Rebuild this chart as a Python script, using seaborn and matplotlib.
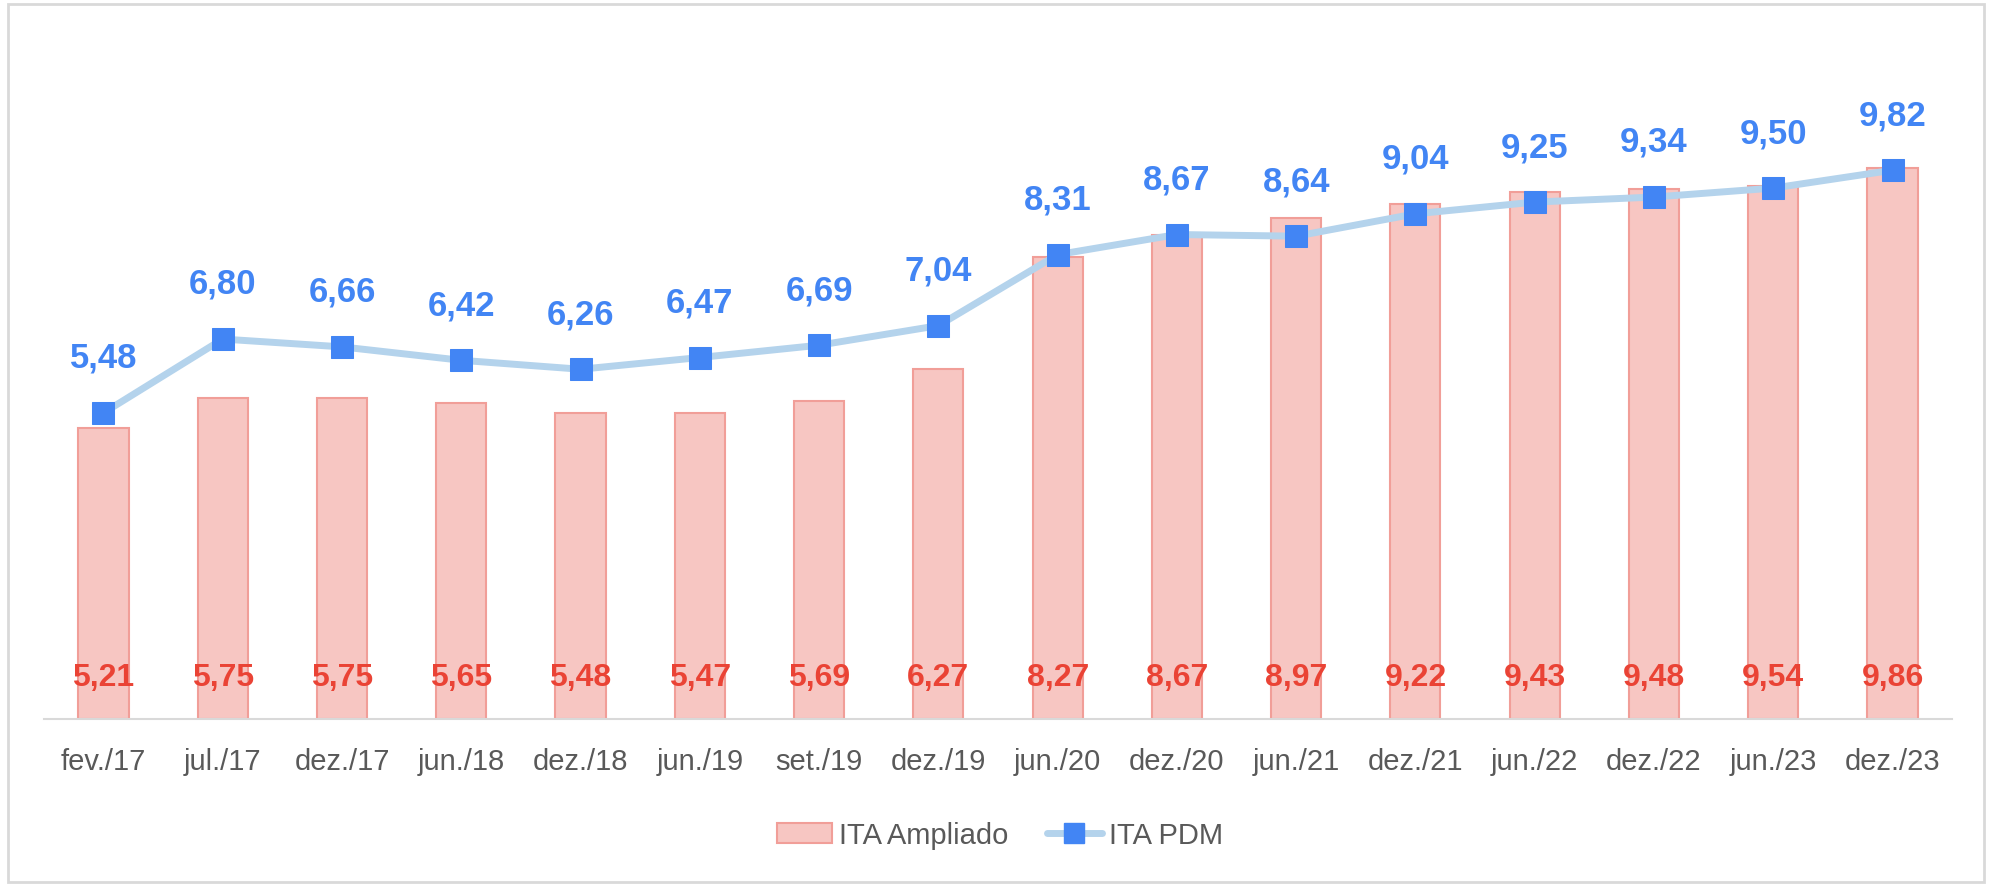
import matplotlib
matplotlib.use("Agg")
import matplotlib.pyplot as plt
import seaborn as sns
import numpy as np
from matplotlib import font_manager
from matplotlib.patches import Patch, Rectangle
from matplotlib.lines import Line2D

# data
periods = ["fev./17", "jul./17", "dez./17", "jun./18", "dez./18", "jun./19", "set./19", "dez./19",
           "jun./20", "dez./20", "jun./21", "dez./21", "jun./22", "dez./22", "jun./23", "dez./23"]
ita_ampliado = [5.21, 5.75, 5.75, 5.65, 5.48, 5.47, 5.69, 6.27,
                8.27, 8.67, 8.97, 9.22, 9.43, 9.48, 9.54, 9.86]
ita_pdm = [5.48, 6.80, 6.66, 6.42, 6.26, 6.47, 6.69, 7.04,
           8.31, 8.67, 8.64, 9.04, 9.25, 9.34, 9.50, 9.82]

sns.set_style("white")
names = {f.name for f in font_manager.fontManager.ttflist}
fam = "Liberation Sans Narrow" if "Liberation Sans Narrow" in names else "Liberation Sans"
plt.rcParams["font.family"] = [fam, "DejaVu Sans"]

bar_fill = "#F7C6C2"
bar_edge = "#F19E98"
line_col = "#B4D3EC"
marker_col = "#4285F4"
red_txt = "#EA4335"
grey_txt = "#595959"

fig = plt.figure(figsize=(19.92, 8.87), dpi=100)
ax = fig.add_axes([0.022, 0.188, 0.958, 0.769])

sns.barplot(x=periods, y=ita_ampliado, color=bar_fill, width=0.42,
            edgecolor=bar_edge, linewidth=1.5, saturation=1, ax=ax)
sns.lineplot(x=np.arange(len(periods)), y=ita_pdm, color=line_col, linewidth=5,
             marker="s", markersize=16, markerfacecolor=marker_col,
             markeredgecolor=marker_col, ax=ax)

fmt = lambda v: f"{v:.2f}".replace(".", ",")
for i, (a, p) in enumerate(zip(ita_ampliado, ita_pdm)):
    ax.text(i, 0.76, fmt(a), ha="center", va="center", color=red_txt,
            fontsize=23, fontweight="bold")
    ax.annotate(fmt(p), (i, p), xytext=(0, 40), textcoords="offset points",
                ha="center", va="center", color=marker_col,
                fontsize=25, fontweight="bold")

ax.set_ylim(0, 12.2)
ax.set_xlim(-0.5, len(periods) - 0.5)
ax.set_yticks([])
ax.set_ylabel("")
for s in ["top", "right", "left"]:
    ax.spines[s].set_visible(False)
ax.spines["bottom"].set_color("#D9D9D9")
ax.spines["bottom"].set_linewidth(1.5)
ax.tick_params(axis="x", length=0, labelsize=21, labelcolor=grey_txt, pad=20)

handles = [Patch(facecolor=bar_fill, edgecolor=bar_edge, linewidth=1.5),
           Line2D([], [], color=line_col, linewidth=5, marker="s", markersize=15,
                  markerfacecolor=marker_col, markeredgecolor=marker_col)]
fig.legend(handles, ["ITA Ampliado", "ITA PDM"], loc="center", bbox_to_anchor=(0.502, 0.057),
           ncol=2, frameon=False, fontsize=21, labelcolor=grey_txt,
           handlelength=1.9, handleheight=0.7, handletextpad=0.25, columnspacing=1.3)

# light frame around the whole chart
fig.patches.append(Rectangle((0.004, 0.004), 0.992, 0.99, transform=fig.transFigure,
                             fill=False, edgecolor="#D9D9D9", linewidth=2))

fig.savefig("out.png", dpi=100)
